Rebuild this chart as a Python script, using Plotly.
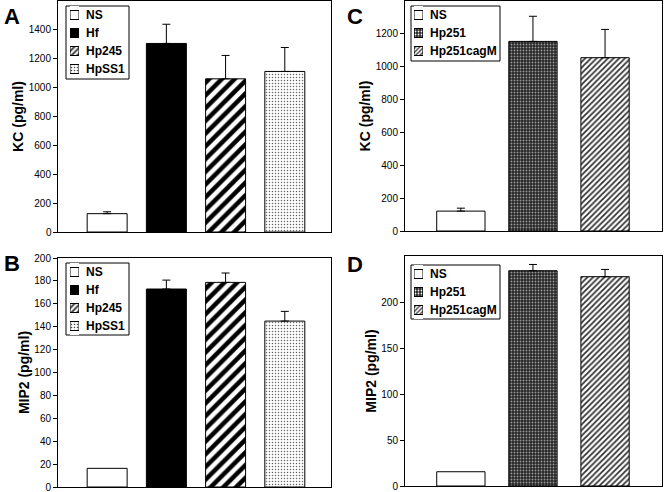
import plotly.graph_objects as go

# ---------------- data ----------------
groups_ab = ["NS", "Hf", "Hp245", "HpSS1"]
kc_a = [127, 1306, 1061, 1112]
kc_a_err = [13, 133, 162, 166]
mip2_b = [16.3, 172.9, 178.7, 144.9]
mip2_b_err = [0, 7.8, 8.2, 8.5]

groups_cd = ["NS", "Hp251", "Hp251cagM"]
kc_c = [121, 1154, 1055]
kc_c_err = [18, 153, 172]
mip2_d = [15.5, 234, 227.5]
mip2_d_err = [0, 6.8, 7.9]

ticks_a = [0, 200, 400, 600, 800, 1000, 1200, 1400]
ticks_b = [0, 20, 40, 60, 80, 100, 120, 140, 160, 180, 200]
ticks_c = [0, 200, 400, 600, 800, 1000, 1200]
ticks_d = [0, 50, 100, 150, 200]

# ---------------- styles ----------------
styles = {
    "NS": dict(color="white", pattern=dict(shape="")),
    "Hf": dict(color="black", pattern=dict(shape="")),
    "Hp245": dict(color="white", pattern=dict(shape="/", fgcolor="black", bgcolor="white", size=9, solidity=0.5, fgopacity=1)),
    "HpSS1": dict(color="white", pattern=dict(shape=".", fgcolor="#666666", bgcolor="white", size=3, solidity=0.2, fgopacity=1)),
    "Hp251": dict(color="#262626", pattern=dict(shape=".", fgcolor="#9a9a9a", bgcolor="#262626", size=3, solidity=0.3, fgopacity=1)),
    "Hp251cagM": dict(color="white", pattern=dict(shape="/", fgcolor="#333333", bgcolor="white", size=4, solidity=0.45, fgopacity=1)),
}

FONT = "Arial, Liberation Sans, sans-serif"
W, H = 664, 492

fig = go.Figure()


def px_x(a, b):
    return [a / W, b / W]


def px_y(top, bottom):
    return [1 - bottom / H, 1 - top / H]


panels = [
    # name, groups, values, errs, axis index, xdom(px), ydom(px), yrange, ticks, title, xrange, bar width, legend box(px), swatch x(px)
    ("B", groups_ab, mip2_b, mip2_b_err, 1, (58, 331), (258, 487), [0, 200], ticks_b, "MIP2 (pg/ml)", [-0.83, 3.78], 0.675, (66, 263, 129, 335), (70, 79)),
    ("A", groups_ab, kc_a, kc_a_err, 2, (58, 331), (1, 232), [0, 1600], ticks_a, "KC (pg/ml)", [-0.83, 3.78], 0.675, (66, 6, 129, 79), (70, 79)),
    ("C", groups_cd, kc_c, kc_c_err, 3, (405, 662), (1, 231), [0, 1400], ticks_c, "KC (pg/ml)", [-0.775, 2.79], 0.67, (411, 6, 500, 61), (414, 423)),
    ("D", groups_cd, mip2_d, mip2_d_err, 4, (405, 662), (256, 486), [0, 250], ticks_d, "MIP2 (pg/ml)", [-0.775, 2.79], 0.67, (411, 265, 500, 319), (414, 423)),
]

layout = dict(
    width=W, height=H,
    margin=dict(l=0, r=0, t=0, b=0),
    paper_bgcolor="white", plot_bgcolor="white",
    font=dict(family=FONT, color="black"),
    barmode="overlay",
    showlegend=False,
    annotations=[],
    shapes=[],
)

letter_pos = {"A": (2, 2), "B": (2, 249), "C": (345, 2), "D": (345, 250)}

for (name, groups, vals, errs, k, xd, yd, yr, ticks, title, xr, bw, lbox, swx) in panels:
    xa, ya = ("x", "y") if k == 1 else (f"x{k}", f"y{k}")
    xkey, ykey = ("xaxis", "yaxis") if k == 1 else (f"xaxis{k}", f"yaxis{k}")
    for i, g in enumerate(groups):
        st = styles[g]
        fig.add_trace(go.Bar(
            x=[i], y=[vals[i]], name=g, width=bw,
            xaxis=xa, yaxis=ya,
            marker=dict(color=st["color"], pattern=st["pattern"], line=dict(color="black", width=1)),
            error_y=dict(type="data", symmetric=False, array=[errs[i]], arrayminus=[0],
                         color="black", thickness=1, width=4, visible=errs[i] > 0),
        ))
    # panel A's lowest tick label is rendered as an annotation tied to the axis scale
    labels = [str(t) for t in ticks]
    if name == "A":
        labels[0] = ""
        layout["annotations"].append(dict(text=str(ticks[0]), x=(xd[0] - 5) / W, y=ticks[0],
                                          xref="paper", yref=ya, xanchor="right", yanchor="middle",
                                          showarrow=False, borderpad=0,
                                          font=dict(size=10, family=FONT, color="black")))
    layout[xkey] = dict(domain=px_x(*xd), anchor=ya, range=xr, showticklabels=False, ticks="",
                        showline=True, linecolor="black", linewidth=1, mirror=True,
                        showgrid=False, zeroline=False, fixedrange=True)
    layout[ykey] = dict(domain=px_y(*yd), anchor=xa, range=yr, tickvals=ticks,
                        ticktext=labels,
                        ticks="outside", ticklen=4, tickcolor="black", tickwidth=1,
                        tickfont=dict(size=10, family=FONT, color="black"),
                        ticklabeloverflow="allow",
                        showline=True, linecolor="black", linewidth=1, mirror=True,
                        showgrid=False, zeroline=False, automargin=False, fixedrange=True,
                        title=dict(text="<b>" + title + "</b>", font=dict(size=14, family=FONT), standoff=1))

    # ---- custom legend: swatches drawn as a small bar trace on its own axes ----
    lx0, ly0, lx1, ly1 = lbox
    n = len(groups)
    pitch = 18
    rows_top = ly0 + 0
    rows_bottom = rows_top + pitch * n
    sk = k + 4
    fig.add_trace(go.Bar(
        y=groups, x=[1] * n, orientation="h", width=0.5,
        xaxis=f"x{sk}", yaxis=f"y{sk}", hoverinfo="skip",
        marker=dict(
            color=[styles[g]["color"] for g in groups],
            line=dict(color="black", width=1),
            pattern=dict(
                shape=[styles[g]["pattern"].get("shape", "") for g in groups],
                fgcolor=[styles[g]["pattern"].get("fgcolor", "black") for g in groups],
                bgcolor=[styles[g]["pattern"].get("bgcolor", styles[g]["color"]) for g in groups],
                size=[max(3, styles[g]["pattern"].get("size", 4) // 2) for g in groups],
                solidity=[styles[g]["pattern"].get("solidity", 0.3) for g in groups],
                fgopacity=1,
            ),
        ),
    ))
    layout[f"xaxis{sk}"] = dict(domain=px_x(*swx), anchor=f"y{sk}", range=[0, 1], visible=False, fixedrange=True)
    layout[f"yaxis{sk}"] = dict(domain=px_y(rows_top, rows_bottom), anchor=f"x{sk}", side="right",
                                categoryorder="array", categoryarray=groups[::-1],
                                range=[-0.5, n - 0.5], showline=False, showgrid=False, zeroline=False,
                                ticks="", ticklabelstandoff=6,
                                tickfont=dict(size=12, family=FONT, color="black", weight="bold"),
                                automargin=False, fixedrange=True)
    layout["shapes"].append(dict(type="rect", xref="paper", yref="paper",
                                 x0=lx0 / W, x1=lx1 / W, y0=1 - ly1 / H, y1=1 - ly0 / H,
                                 line=dict(color="black", width=1), fillcolor="white", layer="below"))

    px0, py0 = letter_pos[name]
    layout["annotations"].append(dict(text="<b>" + name + "</b>", x=px0 / W, y=1 - py0 / H,
                                      xref="paper", yref="paper", xanchor="left", yanchor="top",
                                      showarrow=False, font=dict(size=22, family=FONT)))

fig.update_layout(**layout)
fig.write_html("out.html", config={"displayModeBar": False},
               post_script="document.body.style.margin='0px';document.body.style.overflow='hidden';")
